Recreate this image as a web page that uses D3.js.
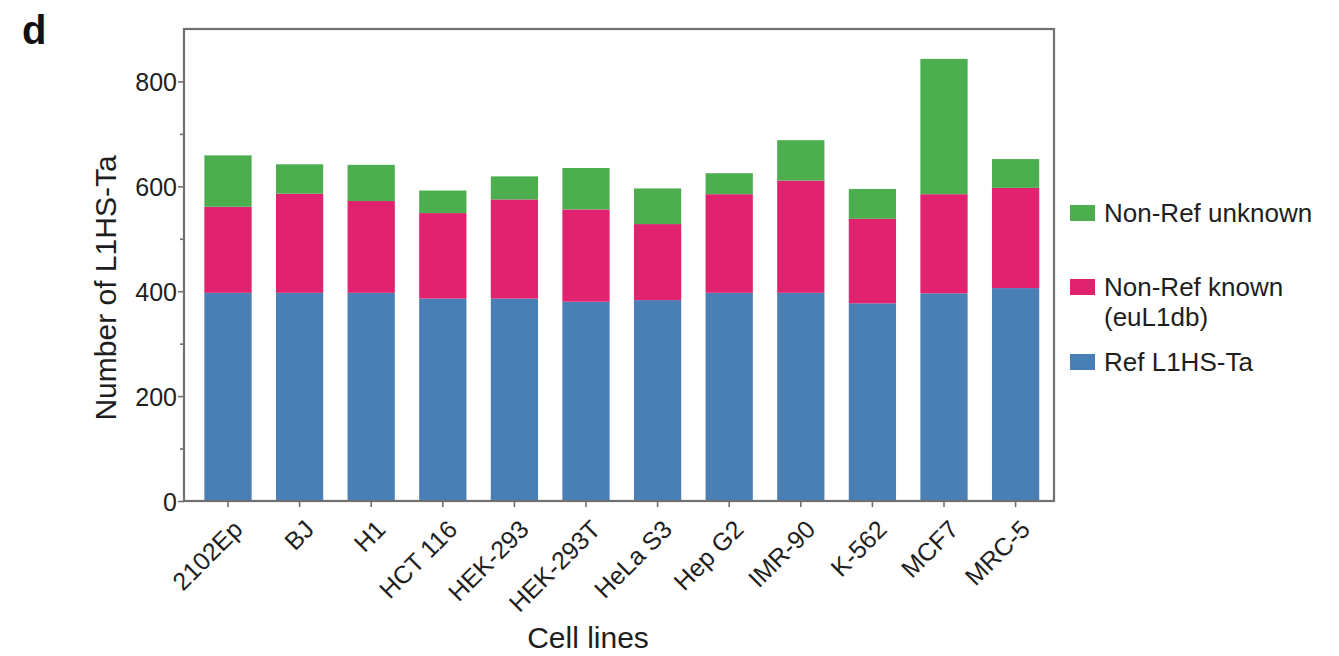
<!DOCTYPE html>
<html>
<head>
<meta charset="utf-8">
<script src="https://cdn.jsdelivr.net/npm/d3@7"></script>
<style>
  html, body { margin: 0; padding: 0; background: #fff; }
  svg { display: block; font-family: "Liberation Sans", Arial, Helvetica, sans-serif; }
</style>
</head>
<body>
<svg id="chart" width="1339" height="656"></svg>
<script>
// Cell lines on the x axis
const cellLines = ["2102Ep", "BJ", "H1", "HCT 116", "HEK-293", "HEK-293T",
                   "HeLa S3", "Hep G2", "IMR-90", "K-562", "MCF7", "MRC-5"];

// Counts per category (stacked bottom to top)
const refL1HSTa     = [397, 397, 397, 386, 386, 380, 383, 397, 397, 377, 396, 406];
const nonRefKnown   = [164, 189, 175, 163, 189, 176, 145, 188, 214, 161, 189, 191];
const nonRefUnknown = [ 98,  56,  69,  43,  44,  79,  68,  40,  77,  57, 258,  55];

const yMajorTicks = [0, 200, 400, 600, 800];
const yMinorTicks = [100, 300, 500, 700];

const seriesKeys   = ["ref", "known", "unknown"];
const seriesColors = { ref: "#4a7fb6", known: "#e0226f", unknown: "#4cae4f" };

// Rows for d3.stack
const rows = cellLines.map((name, i) => ({
  name,
  ref: refL1HSTa[i],
  known: nonRefKnown[i],
  unknown: nonRefUnknown[i]
}));

const svg = d3.select("#chart");
const plot = { left: 184, right: 1054, top: 29, bottom: 501 };
const textColor = "#1e1e1e";
const frameColor = "#707070";

const x = d3.scaleBand()
  .domain(cellLines)
  .range([192.2, 1051.4])
  .paddingInner(0.34)
  .paddingOuter(0.17);

const y = d3.scaleLinear()
  .domain([0, 900])
  .range([plot.bottom, plot.top]);

const stacked = d3.stack().keys(seriesKeys)(rows);

// Bars
svg.append("g")
  .selectAll("g")
  .data(stacked)
  .join("g")
    .attr("fill", d => seriesColors[d.key])
  .selectAll("rect")
  .data(d => d)
  .join("rect")
    .attr("x", d => x(d.data.name))
    .attr("width", x.bandwidth())
    .attr("y", d => y(d[1]))
    .attr("height", d => y(d[0]) - y(d[1]));

// Frame around the plot area
svg.append("rect")
  .attr("x", plot.left)
  .attr("y", plot.top)
  .attr("width", plot.right - plot.left)
  .attr("height", plot.bottom - plot.top)
  .attr("fill", "none")
  .attr("stroke", frameColor)
  .attr("stroke-width", 2.2);

// Y axis: major ticks with labels
const yAxis = svg.append("g")
  .attr("transform", `translate(${plot.left},0)`)
  .call(d3.axisLeft(y).tickValues(yMajorTicks).tickSize(6).tickPadding(1).tickFormat(d3.format("d")));
yAxis.select(".domain").remove();
yAxis.selectAll(".tick line").attr("stroke", frameColor).attr("stroke-width", 1.6);
yAxis.selectAll(".tick text")
  .attr("fill", textColor)
  .style("font-size", "25px")
  .attr("dy", "0.36em");

// Y axis: minor ticks
const yMinor = svg.append("g")
  .attr("transform", `translate(${plot.left},0)`)
  .call(d3.axisLeft(y).tickValues(yMinorTicks).tickSize(4).tickFormat(""));
yMinor.select(".domain").remove();
yMinor.selectAll(".tick line").attr("stroke", frameColor).attr("stroke-width", 1.6);

// X axis
const xAxis = svg.append("g")
  .attr("transform", `translate(0,${plot.bottom})`)
  .call(d3.axisBottom(x).tickSize(6).tickSizeOuter(0));
xAxis.select(".domain").remove();
xAxis.selectAll(".tick line").attr("stroke", frameColor).attr("stroke-width", 1.6);
xAxis.selectAll(".tick text")
  .attr("fill", textColor)
  .style("font-size", "25px")
  .attr("text-anchor", "end")
  .attr("x", 0).attr("y", 0).attr("dy", 0)
  .attr("transform", "translate(16,30) rotate(-45)");

// Axis titles
svg.append("text")
  .attr("transform", `translate(116,288) rotate(-90)`)
  .attr("text-anchor", "middle")
  .attr("fill", textColor)
  .style("font-size", "30px")
  .text("Number of L1HS-Ta");

svg.append("text")
  .attr("x", 588)
  .attr("y", 648)
  .attr("text-anchor", "middle")
  .attr("fill", textColor)
  .style("font-size", "30px")
  .text("Cell lines");

// Panel letter
svg.append("text")
  .attr("x", 22)
  .attr("y", 44)
  .attr("fill", "#111")
  .style("font-size", "40px")
  .style("font-weight", "bold")
  .text("d");

// Legend
const legendItems = [
  { key: "unknown", lines: ["Non-Ref unknown"], y: 205 },
  { key: "known",   lines: ["Non-Ref known", "(euL1db)"], y: 279 },
  { key: "ref",     lines: ["Ref L1HS-Ta"], y: 354 }
];
const legend = svg.append("g");
legendItems.forEach(item => {
  const g = legend.append("g").attr("transform", `translate(1070,${item.y})`);
  g.append("rect")
    .attr("width", 25)
    .attr("height", 16)
    .attr("fill", seriesColors[item.key]);
  const t = g.append("text")
    .attr("x", 34)
    .attr("y", 17)
    .attr("fill", textColor)
    .style("font-size", "26px");
  item.lines.forEach((line, i) => {
    t.append("tspan").attr("x", 34).attr("dy", i === 0 ? 0 : 30).text(line);
  });
});
</script>
</body>
</html>
